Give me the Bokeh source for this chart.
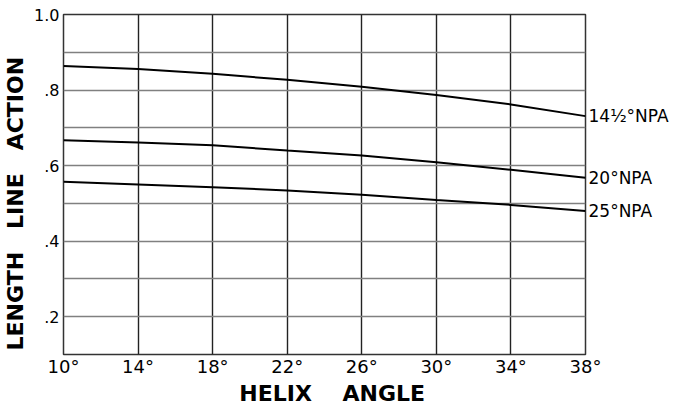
from bokeh.plotting import figure
from bokeh.models import FixedTicker, LinearAxis, Range1d, Grid
from bokeh.embed import file_html
from bokeh.resources import INLINE

helix = [10, 14, 18, 22, 26, 30, 34, 38]
npa_14_5 = [0.864, 0.856, 0.843, 0.827, 0.809, 0.787, 0.762, 0.731]
npa_20 = [0.667, 0.661, 0.654, 0.640, 0.627, 0.609, 0.589, 0.568]
npa_25 = [0.557, 0.550, 0.543, 0.534, 0.523, 0.509, 0.496, 0.480]
series_labels = ["14\u00bd\u00b0NPA", "20\u00b0NPA", "25\u00b0NPA"]
x_ticks = [10, 14, 18, 22, 26, 30, 34, 38]
y_ticks = [0.2, 0.4, 0.6, 0.8, 1.0]
y_tick_labels = [".2", ".4", ".6", ".8", "1.0"]
y_grid_upper = [0.5, 0.6, 0.7, 0.8, 0.9]
y_grid_lower = [0.2, 0.3, 0.4]

FONT = "DejaVu Sans"
NB = "\u00a0"

p = figure(width=671, height=408, output_backend="svg", toolbar_location=None,
           x_range=Range1d(10, 38), y_range=Range1d(0.1, 1.0),
           min_border_left=56, min_border_right=82, min_border_top=14, min_border_bottom=48)

p.background_fill_color = "white"
p.outline_line_color = "#333333"
p.outline_line_width = 1.5

ends = [npa_14_5[-1], npa_20[-1], npa_25[-1]]
right = LinearAxis(ticker=FixedTicker(ticks=ends),
                   major_label_overrides={v: l for v, l in zip(ends, series_labels)})
p.add_layout(right, "right")

xax = p.xaxis[0]
yax = p.yaxis[0]
xax.ticker = FixedTicker(ticks=x_ticks)
xax.major_label_overrides = {t: f"{t}\u00b0" for t in x_ticks}
yax.ticker = FixedTicker(ticks=y_ticks)
yax.major_label_overrides = {t: l for t, l in zip(y_ticks, y_tick_labels)}
p.ygrid.ticker = FixedTicker(ticks=y_grid_upper)
p.xgrid.ticker = FixedTicker(ticks=x_ticks)

lower_grid = Grid(dimension=1, ticker=FixedTicker(ticks=y_grid_lower),
                  grid_line_color="#111111", grid_line_width=1.3)
p.add_layout(lower_grid)

for ax in (xax, yax, right):
    ax.axis_line_color = None
    ax.major_tick_line_color = None
    ax.minor_tick_line_color = None
    ax.major_tick_out = 0
    ax.major_tick_in = 0
    ax.minor_tick_out = 0
    ax.minor_tick_in = 0
    ax.major_label_text_font = FONT
    ax.major_label_text_color = "black"
    ax.major_label_text_line_height = 1.0
    ax.axis_label_text_font = FONT
    ax.axis_label_text_font_style = "bold"
    ax.axis_label_text_font_size = "22px"
    ax.axis_label_text_color = "black"
    ax.axis_label_text_line_height = 1.0

xax.major_label_text_font_size = "18px"
yax.major_label_text_font_size = "16px"
right.major_label_text_font_size = "17px"
right.major_label_standoff = 3
right.axis_label = None

xax.major_label_standoff = 1
yax.major_label_standoff = 4
yax.major_label_orientation = "horizontal"
xax.axis_label = NB * 2 + "HELIX" + NB * 4 + "ANGLE"
xax.axis_label_standoff = 1
yax.axis_label = "LENGTH" + NB * 3 + "LINE" + NB * 3 + "ACTION" + NB * 5
yax.axis_label_standoff = 3

p.xgrid.grid_line_color = "#222222"
p.xgrid.grid_line_width = 1.4
p.ygrid.grid_line_color = "#808080"
p.ygrid.grid_line_width = 1.7

for ys in (npa_14_5, npa_20, npa_25):
    p.line(helix, ys, line_color="black", line_width=2)

open("out.html", "w").write(file_html(p, INLINE))
